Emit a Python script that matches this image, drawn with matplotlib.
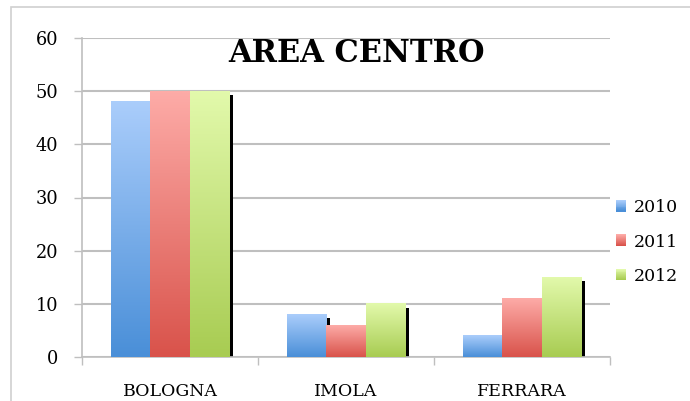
import numpy as np
import matplotlib
matplotlib.use('Agg')
import matplotlib.pyplot as plt
import matplotlib.patheffects as pe
from matplotlib.colors import to_rgb
from matplotlib.patches import Rectangle, Patch
from matplotlib.legend_handler import HandlerBase

# dati
categorie = ['BOLOGNA', 'IMOLA', 'FERRARA']
anni = ['2010', '2011', '2012']
v2010 = [48, 8, 4]
v2011 = [50, 6, 11]
v2012 = [50, 10, 15]
valori = [v2010, v2011, v2012]

# colori gradiente (alto, basso)
colori = [('#aacdfb', '#4a8fd8'),
          ('#fdaba7', '#d9534b'),
          ('#e2f9ab', '#a8cc52')]


def sfuma(alto, basso, n):
    top = np.array(to_rgb(alto))
    bot = np.array(to_rgb(basso))
    t = np.linspace(0, 1, n)[:, None]
    return top * (1 - t) + bot * t


class GradHandler(HandlerBase):
    def create_artists(self, legend, orig_handle, xdescent, ydescent, width, height, fontsize, trans):
        alto, basso = orig_handle.colori
        n = 12
        cols = sfuma(alto, basso, n)
        out = []
        for k in range(n):
            y = -ydescent + height * (1 - (k + 1) / n)
            r = Rectangle((-xdescent, y), width, height / n + 0.3, facecolor=cols[k],
                          edgecolor='none', transform=trans)
            out.append(r)
        return out


plt.rcParams['font.family'] = 'DejaVu Serif'

fig = plt.figure(figsize=(6.9, 4.01), dpi=100)
ax = fig.add_axes([82/690, 1 - 357/401, 528/690, 319/401])

# cornice esterna
fig.patches.append(Rectangle((11/690, -0.1), 1.2, 1 - 7/401 + 0.1, transform=fig.transFigure,
                             fill=False, edgecolor='#d0d0d0', lw=1.2))

x = np.arange(len(categorie))
w = 0.2235
ombra = [pe.SimplePatchShadow(offset=(2.9, -2.9), shadow_rgbFace='black', alpha=1.0), pe.Normal()]

for i, serie in enumerate(valori):
    pos = x + (i - 1) * w
    barre = ax.bar(pos, serie, width=w, color=colori[i][1], edgecolor='none', zorder=2)
    for b in barre:
        b.set_path_effects(ombra)
        x0, y0 = b.get_x(), b.get_y()
        bw, bh = b.get_width(), b.get_height()
        grad = sfuma(colori[i][0], colori[i][1], 64)[:, None, :]
        ax.imshow(grad, extent=(x0, x0 + bw, y0, y0 + bh), origin='upper',
                  aspect='auto', interpolation='bilinear', zorder=3)

ax.set_xlim(-0.5, 2.5)
ax.set_ylim(0, 60)
ax.set_yticks(range(0, 61, 10))
ax.grid(axis='y', color='#bfbfbf', lw=1.5, zorder=0)
ax.set_axisbelow(True)

ax.set_xticks([-0.5, 0.5, 1.5, 2.5])
ax.set_xticklabels([])
ax.set_xticks(x, minor=True)
ax.set_xticklabels(categorie, minor=True)
ax.tick_params(axis='x', which='major', length=6, color='#bfbfbf', width=1)
ax.tick_params(axis='x', which='minor', length=0, pad=18.5, labelsize=12.5)
ax.tick_params(axis='y', length=6, color='#bfbfbf', width=1, pad=11, labelsize=12.8)

for s in ['top', 'right']:
    ax.spines[s].set_visible(False)
for s in ['left', 'bottom']:
    ax.spines[s].set_color('#bfbfbf')
    ax.spines[s].set_linewidth(1.2)

fig.text(357/690, 1 - 62/401, 'AREA CENTRO', ha='center', va='baseline',
         fontsize=22, fontweight='bold')

maniglie = []
for c in colori:
    p = Patch()
    p.colori = c
    maniglie.append(p)
fig.legend(maniglie, anni, loc='center left', bbox_to_anchor=(616/690, 1 - 242/401),
           frameon=False, fontsize=12.5, handlelength=0.6, handleheight=0.6,
           handletextpad=0.45, labelspacing=1.0, borderpad=0, borderaxespad=0,
           handler_map={Patch: GradHandler()})

fig.savefig('out.png', dpi=100)
